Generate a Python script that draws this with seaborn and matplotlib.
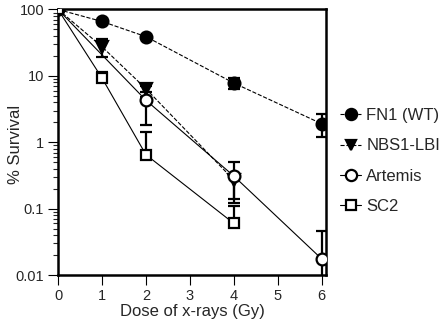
import numpy as np
import pandas as pd
import matplotlib
matplotlib.use("Agg")
import matplotlib.pyplot as plt
import seaborn as sns
from matplotlib.lines import Line2D

## Dados
dose = [0, 1, 2, 4, 6]
dose_nbs1 = [0, 1, 2, 4]
dose_artemis = [0, 2, 4, 6]
dose_sc2 = [0, 1, 2, 4]

fn1 = [100, 66, 39, 7.8, 1.9]
fn1_low = [100, 66, 39, 6.4, 1.19]
fn1_high = [100, 66, 39, 9.4, 2.65]

nbs1 = [100, 27.5, 6.4, 0.27]
nbs1_low = [100, 19.5, 5.8, 0.142]
nbs1_high = [100, 36.0, 7.0, 0.32]

artemis = [100, 4.3, 0.31, 0.0175]
artemis_low = [100, 1.8, 0.123, 0.005]
artemis_high = [100, 4.8, 0.50, 0.046]

sc2 = [100, 9.3, 0.65, 0.06]
sc2_low = [100, 9.3, 0.65, 0.06]
sc2_high = [100, 11.5, 1.42, 0.111]

labels = ['FN1 (WT)', 'NBS1-LBI', 'Artemis', 'SC2']

sns.set_theme(style="ticks")
plt.rcParams['font.family'] = ['Liberation Sans', 'DejaVu Sans']

fig = plt.figure(figsize=(4.47, 3.27), dpi=100)
ax = fig.add_axes([0.1298, 0.159, 0.5996, 0.812])

series = [
    (dose, fn1, fn1_low, fn1_high, dict(marker='o', mfc='black', ms=8.5, ls='--')),
    (dose_nbs1, nbs1, nbs1_low, nbs1_high, dict(marker='v', mfc='black', ms=8, ls='--')),
    (dose_artemis, artemis, artemis_low, artemis_high, dict(marker='o', mfc='white', ms=8.5, ls='-')),
    (dose_sc2, sc2, sc2_low, sc2_high, dict(marker='s', mfc='white', ms=7.5, ls='-')),
]

handles = []
for (x, y, lo, hi, st), lab in zip(series, labels):
    y = np.array(y)
    yerr = [y - np.array(lo), np.array(hi) - y]
    ax.errorbar(x, y, yerr=yerr, fmt='none', ecolor='black', elinewidth=1.6,
                capsize=4, capthick=1.6, zorder=2)
    df = pd.DataFrame({'dose': x, 'surv': y})
    sns.lineplot(data=df, x='dose', y='surv', ax=ax, color='black', lw=0.8,
                 linestyle=st['ls'], marker=st['marker'], markersize=st['ms'],
                 markerfacecolor=st['mfc'], markeredgecolor='black',
                 markeredgewidth=1.6, zorder=3)
    handles.append(Line2D([], [], color='black', lw=0.8, ls=st['ls'], marker=st['marker'],
                          ms=st['ms'] * 0.95, mfc=st['mfc'], mec='black', mew=1.6))

ax.set_yscale('log')
ax.set_ylim(0.01, 100)
ax.set_xlim(0, 6.1)
ax.set_xticks(range(7))
ax.set_yticks([0.01, 0.1, 1, 10, 100])
ax.set_yticklabels(['0.01', '0.1', '1', '10', '100'])
ax.tick_params(axis='both', labelsize=10.5, width=0.8, length=7, pad=3,
               direction='out', color='black')
ax.tick_params(axis='y', which='minor', length=3.5, width=0.8)
for s in ax.spines.values():
    s.set_linewidth(1.8)
    s.set_color('black')
ax.set_xlabel('Dose of x-rays (Gy)', fontsize=12, labelpad=1)
ax.set_ylabel('% Survival', fontsize=12)
ax.yaxis.set_label_coords(-0.13, 0.49)

fig.legend(handles, labels, loc='upper left', bbox_to_anchor=(0.745, 0.69), frameon=False,
           fontsize=12, handlelength=1.3, handletextpad=0.3, labelspacing=0.92, borderaxespad=0)

plt.savefig('out.png', dpi=100)
